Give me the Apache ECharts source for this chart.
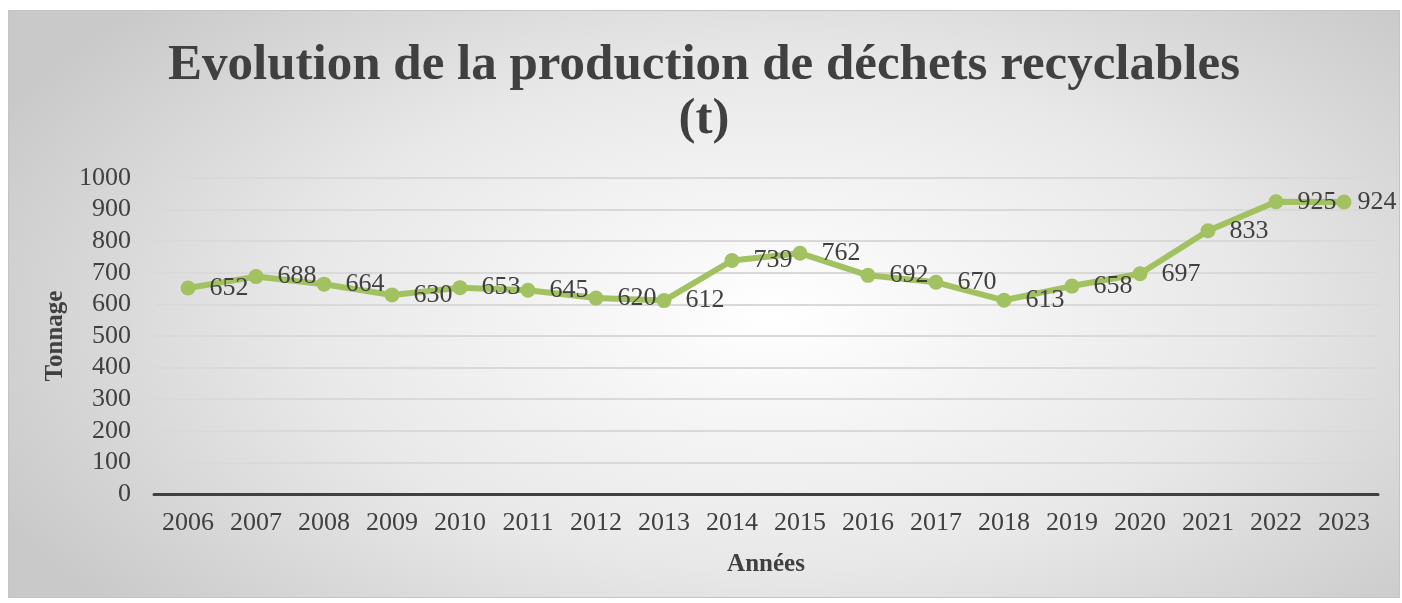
<!DOCTYPE html>
<html>
<head>
<meta charset="utf-8">
<script src="https://cdn.jsdelivr.net/npm/echarts@6/dist/echarts.min.js"></script>
<style>
  html, body {
    margin: 0;
    padding: 0;
    background: #fff;
  }
  #chart-box {
    position: absolute;
    left: 8px;
    top: 10px;
    width: 1392px;
    height: 588px;
    border: 1px solid #c4c4c4;
    box-sizing: border-box;
    background: radial-gradient(ellipse 62% 78% at 55% 52%, #ffffff 0%, #e8e8e8 55%, #c9c9c9 100%);
  }
</style>
</head>
<body>
<div id="chart-box"></div>
<script>
const years = ["2006", "2007", "2008", "2009", "2010", "2011", "2012", "2013", "2014",
  "2015", "2016", "2017", "2018", "2019", "2020", "2021", "2022", "2023"];
const tonnage = [652, 688, 664, 630, 653, 645, 620, 612, 739,
  762, 692, 670, 613, 658, 697, 833, 925, 924];

const serif = "'Liberation Serif', 'DejaVu Serif', serif";

const chart = echarts.init(document.getElementById("chart-box"));

// last label sits closer to its point so it stays inside the frame
const seriesData = tonnage.map((v, i) =>
  i === tonnage.length - 1 ? { value: v, label: { distance: 6 } } : v
);

const option = {
  animation: false,
  title: {
    text: "Evolution de la production de déchets recyclables\n(t)",
    left: "center",
    top: 23,
    textStyle: {
      color: "#404040",
      fontFamily: serif,
      fontWeight: "bold",
      fontSize: 51,
      lineHeight: 54,
    },
  },
  grid: {
    left: 145,
    right: 21,
    top: 167,
    bottom: 103,
  },
  xAxis: {
    type: "category",
    data: years,
    name: "Années",
    nameLocation: "middle",
    nameGap: 58,
    nameTextStyle: {
      color: "#404040",
      fontFamily: serif,
      fontWeight: "bold",
      fontSize: 25,
    },
    axisLine: { lineStyle: { color: "#404040", width: 3 } },
    axisTick: { show: false },
    axisLabel: {
      color: "#404040",
      fontFamily: serif,
      fontSize: 26,
      margin: 16,
    },
  },
  yAxis: {
    type: "value",
    min: 0,
    max: 1000,
    interval: 100,
    name: "Tonnage",
    nameLocation: "middle",
    nameGap: 84,
    nameTextStyle: {
      color: "#404040",
      fontFamily: serif,
      fontWeight: "bold",
      fontSize: 25,
    },
    axisLine: { show: false },
    axisTick: { show: false },
    axisLabel: {
      color: "#404040",
      fontFamily: serif,
      fontSize: 26,
      margin: 23,
      formatter: (v) => String(v),
    },
    splitLine: { lineStyle: { color: "#d9d9d9", width: 2 } },
  },
  series: [
    {
      type: "line",
      data: seriesData,
      symbol: "circle",
      symbolSize: 15,
      lineStyle: { color: "#a2c262", width: 6 },
      itemStyle: { color: "#a2c262" },
      label: {
        show: true,
        position: "right",
        distance: 14,
        color: "#404040",
        fontFamily: serif,
        fontSize: 26,
      },
    },
  ],
};

chart.setOption(option);
</script>
</body>
</html>
